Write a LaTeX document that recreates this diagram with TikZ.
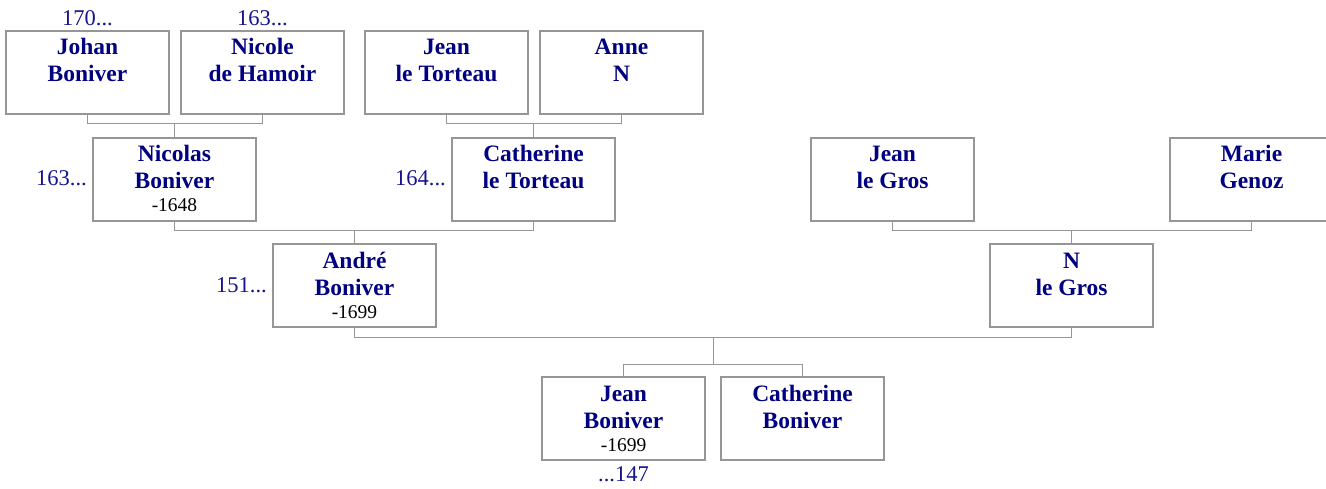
\documentclass[tikz,border=0pt]{standalone}
\usepackage{fontspec}
\setmainfont{Liberation Serif}
\usetikzlibrary{calc}
\definecolor{namecol}{RGB}{0,0,128}
\definecolor{labcol}{RGB}{20,20,140}
\definecolor{linecol}{RGB}{150,150,150}
\newcommand{\pbox}[3]{\begin{minipage}[c][83pt][t]{163pt}\centering\fontsize{23.5}{27}\selectfont\bfseries\color{namecol}\rule{0pt}{24pt}#1\\#2\\[-4pt]{\fontsize{19.5}{23}\selectfont\mdseries\color{black}#3}\end{minipage}}
\tikzset{
  person/.style={draw=linecol, line width=1.4pt, rectangle, inner sep=0pt, outer sep=0pt,
    minimum width=163pt, minimum height=83pt, anchor=north west, fill=white},
  lab/.style={text=labcol, font=\fontsize{22.5}{27}\selectfont, inner sep=0pt},
  conn/.style={draw=linecol, line width=1pt}
}
\begin{document}
\begin{tikzpicture}[x=1pt,y=-1pt]
\useasboundingbox (0,0) rectangle (1326,489);
% row 1
\node[person] (johan)  at (6,31)   {\pbox{Johan}{Boniver}{}};
\node[person] (nicole) at (181,31) {\pbox{Nicole}{de Hamoir}{}};
\node[person] (jeanT)  at (365,31) {\pbox{Jean}{le Torteau}{}};
\node[person] (anne)   at (540,31) {\pbox{Anne}{N}{}};
% row 2
\node[person] (nicolas) at (93,138)  {\pbox{Nicolas}{Boniver}{-1648}};
\node[person] (catT)    at (452,138) {\pbox{Catherine}{le Torteau}{}};
\node[person] (jeanG)   at (811,138) {\pbox{Jean}{le Gros}{}};
\node[person] (marie)   at (1170,138) {\pbox{Marie}{Genoz}{}};
% row 3
\node[person] (andre) at (273,244) {\pbox{André}{Boniver}{-1699}};
\node[person] (nG)    at (990,244) {\pbox{N}{le Gros}{}};
% row 4
\node[person] (jeanB) at (542,377) {\pbox{Jean}{Boniver}{-1699}};
\node[person] (catB)  at (721,377) {\pbox{Catherine}{Boniver}{}};
% labels
\node[lab, anchor=base] (l1) at ($(johan.north)+(0,-5)$) {170...};
\node[lab, anchor=base] (l2) at ($(nicole.north)+(0,-5)$) {163...};
\node[lab, anchor=base east] (l3) at ($(nicolas.north west)+(-6,48)$) {163...};
\node[lab, anchor=base east] (l4) at ($(catT.north west)+(-6,48)$) {164...};
\node[lab, anchor=base east] (l5) at ($(andre.north west)+(-6,48)$) {151...};
\node[lab, anchor=base] (l6) at ($(jeanB.south)+(0,21)$) {...147};
% connectors
\draw[conn] (johan.south) -- ++(0,10) coordinate (c1) -| (nicole.south);
\draw[conn] (nicolas.north) -- (nicolas.north |- c1);
\draw[conn] (jeanT.south) -- ++(0,10) coordinate (c2) -| (anne.south);
\draw[conn] (catT.north) -- (catT.north |- c2);
\draw[conn] (nicolas.south) -- ++(0,10) coordinate (c3) -| (catT.south);
\draw[conn] (andre.north) -- (andre.north |- c3);
\draw[conn] (jeanG.south) -- ++(0,10) coordinate (c4) -| (marie.south);
\draw[conn] (nG.north) -- (nG.north |- c4);
\draw[conn] (andre.south) -- ++(0,10) coordinate (c5) -| (nG.south);
\coordinate (m5) at ($(andre.south)!0.5!(nG.south)+(0,10)$);
\coordinate (sb) at ($(m5)+(0,27)$);
\draw[conn] (m5) -- (sb);
\draw[conn] (jeanB.north) -- (jeanB.north |- sb) -- (catB.north |- sb) -- (catB.north);
\end{tikzpicture}
\end{document}
